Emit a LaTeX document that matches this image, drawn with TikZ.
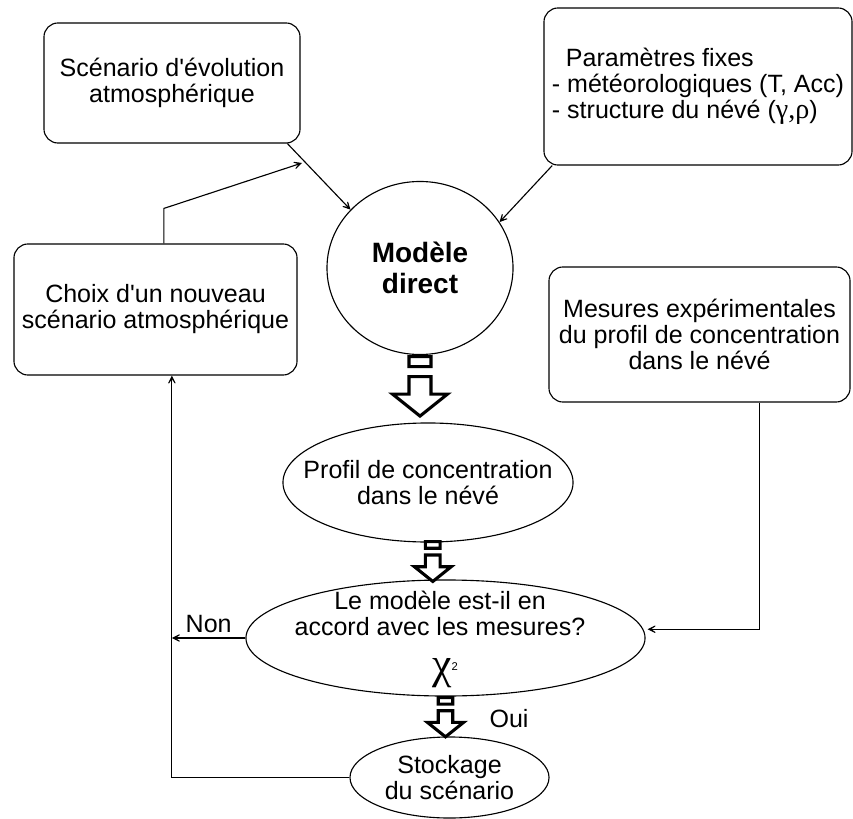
\documentclass[tikz,border=0pt]{standalone}
\usepackage{fontspec}
\setmainfont{Liberation Sans}
\newfontfamily\symb{Liberation Serif}
\usepackage{tikz}
\usetikzlibrary{arrows.meta, shapes.geometric}

% grosse fleche creuse avec son petit rectangle
\newcommand{\blocfleche}[2]{%
  \draw [bloc, shift={(#1)}, scale=#2]
    (-11,1.5) rectangle (11,11.5)
    (-11,21.5) -- (11,21.5) -- (11,39) -- (27.5,39) -- (0,61)
    -- (-27.5,39) -- (-11,39) -- cycle;}

\begin{document}
\begin{tikzpicture}[x=0.025cm, y=-0.025cm,
    every node/.style = {font=\fontsize{17.8}{18.5}\selectfont, align=center},
    boite/.style = {draw, rounded corners=0.35cm, line width=0.8pt, inner sep=0pt},
    bulle/.style = {draw, ellipse, line width=0.8pt, inner sep=0pt},
    fil/.style = {line width=0.8pt, -{Stealth[length=0.33cm, width=0.33cm, inset=0.24cm]}},
    bloc/.style = {line width=2.2pt, fill=white, line join=miter}]
    \useasboundingbox (0,0) rectangle (853,819);

    \node (scen) [boite, minimum width=6.4cm, minimum height=3cm] at (172,83)
        {Sc\'enario d\textquotesingle\'evolution\\atmosph\'erique};
    \node (param) [boite, align=left, minimum width=7.7cm, minimum height=3.925cm] at (698,86.5)
        {\hspace{0.35cm}Paramètres fixes\\- météorologiques (T, Acc)\\- structure du névé ({\symb\fontsize{20}{18.5}\selectfont γ,ρ})};
    \node (modele) [bulle, minimum width=4.65cm, minimum height=4.325cm,
        font=\bfseries\fontsize{19.9}{22}\selectfont] at (420,268) {Modèle\\direct};
    \node (choix) [boite, minimum width=7.075cm, minimum height=3.275cm] at (155.5,309.5)
        {Choix d\textquotesingle un nouveau\\scénario atmosphérique};
    \node (mesures) [boite, minimum width=7.525cm, minimum height=3.375cm] at (699.5,334.5)
        {Mesures expérimentales\\du profil de concentration\\dans le névé};
    \node (profil) [bulle, minimum width=7.25cm, minimum height=2.975cm,
        label=center:{Profil de concentration\\dans le névé}] at (428,482.5) {};
    \node (accord) [bulle, minimum width=9.975cm, minimum height=2.9cm] at (445.5,638) {};
    \node (question) at (440,613) {Le modèle est-il en\\accord avec les mesures?};
    \node (chi) at (445,673)
        {{\symb\fontsize{31}{32}\selectfont χ}{\fontsize{8}{9}\selectfont\raisebox{0.2cm}{2}}};
    \node (stock) [bulle, minimum width=4.975cm, minimum height=2.025cm] at (449.5,777.5)
        {Stockage\\du scénario};
    \node (oui) at (509,719) {Oui};

    \coordinate (retour) at (302,163);

\path [fil]
    ([xshift=-0.33cm]scen.south east) edge (modele.140)
    ([xshift=0.22cm]param.south west) edge (modele.30);

    \draw [fil] ([xshift=0.21cm]choix.north) -- ++(0,-35) -- (retour);
    \draw [fil] (stock.west) -| ([xshift=0.41cm]choix.south);
    \draw [fil] (accord.west) -- ([xshift=0.41cm]choix.south |- accord.west)
        node [midway, above] {Non};
    \draw [fil] ([xshift=1.49cm]mesures.south) |- ([xshift=0.05cm, yshift=0.22cm]accord.east);

    \blocfleche{modele.south}{1}
    \blocfleche{[xshift=0.12cm, yshift=0.05cm]profil.south}{0.67}
    \blocfleche{accord.south}{0.66}
\end{tikzpicture}
\end{document}
